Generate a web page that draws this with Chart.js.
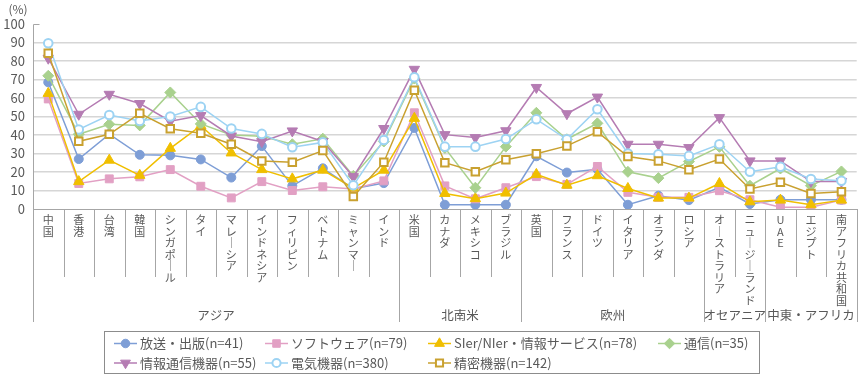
<!DOCTYPE html>
<html lang="ja">
<head>
<meta charset="utf-8">
<script src="https://cdn.jsdelivr.net/npm/chart.js@4.4.1/dist/chart.umd.min.js"></script>
<style>
  body { margin: 0; background: #fff; }
  #wrap { width: 864px; height: 378px; position: relative; }
</style>
</head>
<body>
<div id="wrap"><canvas id="regionChart"></canvas></div>
<script>
const countries = ['中国', '香港', '台湾', '韓国', 'シンガポール', 'タイ', 'マレーシア', 'インドネシア', 'フィリピン', 'ベトナム', 'ミャンマー', 'インド',
  '米国', 'カナダ', 'メキシコ', 'ブラジル',
  '英国', 'フランス', 'ドイツ', 'イタリア', 'オランダ', 'ロシア',
  'オーストラリア', 'ニュージーランド',
  'UAE', 'エジプト', '南アフリカ共和国'];

const regions = ['アジア', '北南米', '欧州', 'オセアニア', '中東・アフリカ'];
const regionSizes = [12, 4, 6, 2, 3];

const yTicks = [0, 10, 20, 30, 40, 50, 60, 70, 80, 90, 100];

// values in %
const broadcast = [68.5, 27, 40.5, 29.3, 29, 26.8, 17, 34, 12.5, 22, 11, 14, 43.8, 2.3, 2.3, 2.3, 28.5, 19.7, 21.5, 2.3, 7.2, 4.8, 11.7, 2.7, 5, 5, 5];
const software = [59.5, 13.8, 16.3, 17.4, 21.3, 12.3, 6, 14.8, 10, 12, 10.8, 15.2, 52, 12.5, 5.5, 11.5, 17.5, 13.3, 23, 9, 6.3, 6.3, 9.9, 5, 0.9, 0.9, 4.8];
const sier = [62.5, 14.8, 26.4, 18.2, 32.8, 45, 30.3, 21.3, 16.3, 21, 11.3, 21, 49, 8.4, 5.6, 8.6, 18.7, 12.9, 18, 11.1, 5.9, 5.9, 13.8, 3.9, 4.8, 2.3, 4.8];
const telecom = [72, 40.4, 45.8, 45.2, 63, 46, 40, 39.3, 35, 38, 17.9, 36.5, 70.5, 33, 11.5, 33.7, 52, 37.7, 46.3, 20.1, 16.7, 25.7, 33.6, 12.6, 21.9, 12.6, 20.3];
const infoComm = [81.5, 51.2, 62, 57, 47.5, 50.5, 39.5, 36.4, 42.2, 36.5, 17.5, 43.5, 75.5, 40.2, 38.6, 42.3, 65.7, 51.5, 60.5, 35, 35, 33.2, 49.4, 26, 26, 14.9, 14.9];
const electrical = [89.6, 43, 50.8, 47.6, 50, 55.2, 43.5, 40.6, 33.4, 36, 12.8, 37.3, 71.2, 33.7, 33.7, 37.8, 48.5, 37.7, 53.9, 30, 29.6, 28.7, 35, 20.1, 22.8, 16.2, 15.3];
const precision = [84.2, 36.6, 40.4, 51.7, 43.4, 40.9, 35, 26, 25.3, 31.6, 6.8, 25.3, 64.2, 25, 20.2, 26.6, 29.9, 34.1, 41.7, 28.4, 26, 21.2, 27, 10.8, 14.4, 8.4, 9.3];

const FONT = '"Noto Sans CJK JP", "Noto Sans", sans-serif';
const TEXT = '#595959';
const AXIS = '#a6a6a6';

function series(label, data, color, style, opts) {
  return Object.assign({
    label: label,
    data: data,
    borderColor: color,
    backgroundColor: color,
    borderWidth: 1.5,
    pointStyle: style,
    pointBackgroundColor: color,
    pointBorderColor: color,
    pointBorderWidth: 1,
    pointRadius: 5,
    fill: false,
    tension: 0
  }, opts || {});
}

const datasets = [
  series('放送・出版(n=41)', broadcast, '#7e9ed6', 'circle', { pointRadius: 4.5, order: 7 }),
  series('ソフトウェア(n=79)', software, '#e2a0c4', 'rect', { pointRadius: 5.6, order: 6 }),
  series('SIer/NIer・情報サービス(n=78)', sier, '#f0bf00', 'triangle', { pointRadius: 6, order: 5 }),
  series('通信(n=35)', telecom, '#a9d18e', 'rectRot', { pointRadius: 5.5, order: 4 }),
  series('情報通信機器(n=55)', infoComm, '#b57cb3', 'triangle', { pointRadius: 6, pointRotation: 180, order: 3 }),
  series('電気機器(n=380)', electrical, '#9dd3f3', 'circle', { pointRadius: 4.3, pointBackgroundColor: '#fff', pointBorderWidth: 2, order: 2 }),
  series('精密機器(n=142)', precision, '#c9a130', 'rect', { pointRadius: 5.3, pointBackgroundColor: '#fff', pointBorderWidth: 2, order: 1 })
];

// vertical label: one character per line, long vowel mark turned upright
function vertical(name) {
  return Array.from(name).map(c => (c === 'ー' ? '│' : c));
}

function marker(ctx, ds, x, y) {
  ctx.save();
  ctx.fillStyle = ds.pointBackgroundColor;
  ctx.strokeStyle = ds.pointBorderColor;
  ctx.lineWidth = ds.pointBorderWidth;
  Chart.helpers.drawPoint(ctx, {
    pointStyle: ds.pointStyle,
    rotation: ds.pointRotation || 0,
    radius: ds.pointRadius * 0.95,
    borderWidth: ds.pointBorderWidth
  }, x, y);
  ctx.restore();
}

const decor = {
  id: 'decor',
  afterDraw(chart) {
    const { ctx, chartArea } = chart;
    const x = chart.scales.x;
    const y = chart.scales.y;
    const base = chartArea.bottom;
    ctx.save();
    ctx.strokeStyle = AXIS;
    ctx.lineWidth = 1;

    // y axis line, running down through the label area
    const ax = Math.round(chartArea.left) + 0.5;
    const top = Math.round(y.getPixelForValue(100)) + 0.5;
    ctx.beginPath();
    ctx.moveTo(ax, top);
    ctx.lineTo(ax, 322);
    ctx.moveTo(ax, top);
    ctx.lineTo(ax + 6, top);
    ctx.stroke();

    // category separators and region separators
    const bounds = [0];
    regionSizes.forEach(n => bounds.push(bounds[bounds.length - 1] + n));
    for (let i = 1; i <= countries.length; i++) {
      const bx = Math.round(x.getPixelForValue(i - 0.5)) + 0.5;
      const long = bounds.includes(i);
      ctx.beginPath();
      ctx.moveTo(bx, base);
      ctx.lineTo(bx, long ? 322 : 277);
      ctx.stroke();
    }

    // region names
    ctx.fillStyle = TEXT;
    ctx.font = '12.5px ' + FONT;
    ctx.textAlign = 'center';
    ctx.textBaseline = 'middle';
    regions.forEach((r, k) => {
      const a = x.getPixelForValue(bounds[k] - 0.5);
      const b = x.getPixelForValue(bounds[k + 1] - 0.5);
      ctx.fillText(r, (a + b) / 2, 315);
    });

    // unit
    ctx.font = '12px ' + FONT;
    ctx.fillText('(%)', 18, 9);

    // legend box
    ctx.strokeStyle = '#8c8c8c';
    ctx.strokeRect(104.5, 331.5, 655, 42);
    const cols = [114, 265, 428, 658];
    const rows = [343.5, 363];
    const slots = [[0, 0], [1, 0], [2, 0], [3, 0], [0, 1], [1, 1], [2, 1]];
    ctx.font = '13px ' + FONT;
    ctx.textAlign = 'left';
    datasets.forEach((ds, i) => {
      const lx = cols[slots[i][0]];
      const ly = rows[slots[i][1]];
      ctx.strokeStyle = ds.borderColor;
      ctx.lineWidth = 1.5;
      ctx.beginPath();
      ctx.moveTo(lx, ly);
      ctx.lineTo(lx + 23, ly);
      ctx.stroke();
      marker(ctx, ds, lx + 11.5, ly);
      ctx.fillStyle = TEXT;
      ctx.fillText(ds.label, lx + 26, ly);
    });
    ctx.restore();
  }
};

Chart.defaults.font.family = FONT;

new Chart(document.getElementById('regionChart'), {
  type: 'line',
  data: { labels: countries, datasets: datasets },
  plugins: [decor],
  options: {
    responsive: true,
    maintainAspectRatio: false,
    animation: false,
    layout: { padding: { top: 24, right: 4, left: 0, bottom: 0 } },
    plugins: {
      legend: { display: false },
      tooltip: { enabled: false }
    },
    scales: {
      x: {
        offset: true,
        afterFit: s => { s.height = 169; },
        grid: { offset: true, drawOnChartArea: false, drawTicks: false },
        border: { display: true, color: AXIS, width: 1 },
        ticks: {
          autoSkip: false,
          maxRotation: 0,
          padding: 5,
          color: TEXT,
          font: { size: 11, lineHeight: 1.05 },
          callback: (v, i) => vertical(countries[i])
        }
      },
      y: {
        min: 0,
        max: 100,
        afterFit: s => { s.width = 33; },
        afterBuildTicks: s => { s.ticks = yTicks.map(v => ({ value: v })); },
        border: { display: false },
        grid: {
          drawTicks: false,
          lineWidth: 1.5,
          color: c => (c.tick.value === 0 || c.tick.value === 100 ? 'rgba(0,0,0,0)' : '#d6d6d6')
        },
        ticks: { autoSkip: false, stepSize: 10, padding: 8, color: TEXT, font: { size: 13 } }
      }
    }
  }
});
</script>
</body>
</html>
